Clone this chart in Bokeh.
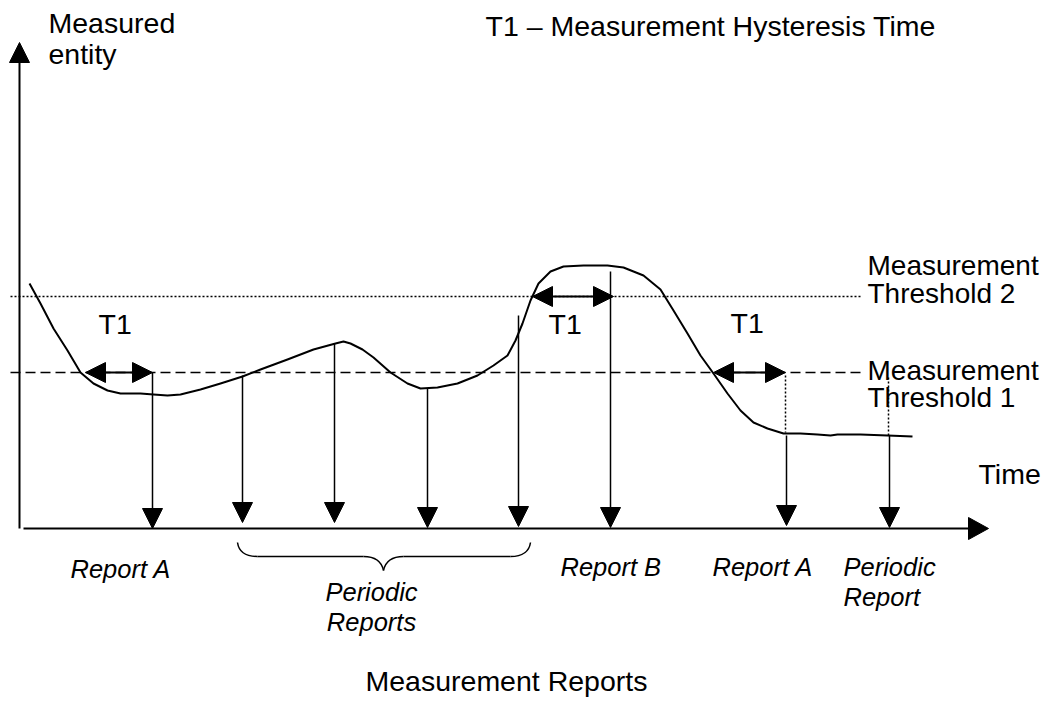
from bokeh.plotting import figure
from bokeh.models import Range1d
from bokeh.embed import file_html
from bokeh.resources import INLINE
from bokeh.core.properties import value

# ---------------- data (diagram coordinates) ----------------
curve_x = [29, 40, 53, 67, 80, 93, 107, 120, 140, 153, 167, 180, 200, 220, 242, 260,
           287, 313, 335, 343, 350, 362, 373, 390, 407, 420, 437, 457, 477, 493, 507,
           515, 522, 530, 538, 550, 563, 583, 607, 623, 643, 660, 673, 687, 700, 713,
           727, 740, 753, 767, 783, 800, 817, 830, 837, 860, 887, 912]
curve_y = [283, 303, 328, 350, 372, 383, 390, 393, 393, 394, 395, 394, 389, 383, 376, 369,
           359, 349, 343, 341, 343, 349, 357, 372, 383, 388, 387, 383, 375, 365, 355,
           340, 323, 300, 283, 271, 266, 265, 265, 267, 275, 289, 310, 333, 355, 373,
           393, 410, 422, 428, 433, 433, 434, 435, 434, 434, 435, 436]

threshold_x = [10, 860]
threshold1_level = 372
threshold2_level = 296

report_x = [152, 242, 334, 427, 518, 610, 786, 889]
report_top = [372, 375, 343, 388, 315, 271, 435, 435]
report_tip = [528, 522, 522, 527, 526, 527, 525, 527]

hyst_start = [85, 532, 713]
hyst_end = [152, 613, 785]
hyst_level = [372, 296, 372]
hyst_label_x = [98, 548, 730]
hyst_label_y = [333, 333, 332]

drop_x = [785, 888]
drop_top = [375, 377]
drop_bottom = [432, 435]

report_label_text = ["Report A", "Report B", "Report A", "Periodic", "Report"]
report_label_x = [70, 560, 712, 843, 843]
report_label_y = [577, 575, 575, 575, 605]

periodic_text = ["Periodic", "Reports"]
periodic_x = [371, 371]
periodic_y = [600, 630]

plain_text = ["Measured", "entity", "T1 \u2013 Measurement Hysteresis Time",
              "Time", "Measurement Reports"]
plain_x = [48, 48, 485, 978, 365]
plain_y = [32, 63, 35, 483, 690]

threshold_text = ["Measurement", "Threshold 2", "Measurement", "Threshold 1"]
threshold_text_x = [867, 867, 867, 867]
threshold_text_y = [275, 303, 380, 407]

FONT = value("Liberation Sans")
BIG = 28.5
SMALL = 25.5
# renderer places the alphabetic baseline about a third of an em lower than asked
BIG_SHIFT = 0.34 * BIG
SMALL_SHIFT = 0.34 * SMALL

p = figure(width=1043, height=697, x_range=Range1d(0, 1043), y_range=Range1d(697, 0),
           output_backend="svg", toolbar_location=None, x_axis_type=None, y_axis_type=None,
           min_border=0)
p.outline_line_color = None
p.background_fill_color = "white"
p.border_fill_color = "white"

# axes
p.segment(x0=[19, 23], y0=[62, 528], x1=[19, 968], y1=[528, 528], line_width=2, line_color="black")
p.patches(xs=[[9, 29, 19], [968, 968, 988]], ys=[[62, 62, 42], [517, 539, 528]],
          fill_color="black", line_color="black", line_width=1)

# thresholds
p.line(threshold_x, [threshold2_level] * 2, line_width=1.5, line_color="black", line_dash="2 2")
p.line(threshold_x, [threshold1_level] * 2, line_width=1.5, line_color="black", line_dash="10 5")

# curve
p.line(curve_x, curve_y, line_width=2, line_color="black", line_join="round")

# report arrows
HEAD_L = 20
HEAD_W = 10
p.segment(x0=report_x, y0=report_top, x1=report_x, y1=[t - HEAD_L for t in report_tip],
          line_width=1.5, line_color="black")
p.patches(xs=[[x - HEAD_W, x + HEAD_W, x] for x in report_x],
          ys=[[t - HEAD_L, t - HEAD_L, t] for t in report_tip],
          fill_color="black", line_color="black", line_width=1)

# dotted drops
p.segment(x0=drop_x, y0=drop_top, x1=drop_x, y1=drop_bottom, line_width=1.5,
          line_color="black", line_dash="2 2")

# hysteresis double arrows
p.segment(x0=[s + 15 for s in hyst_start], y0=hyst_level, x1=[e - 15 for e in hyst_end],
          y1=hyst_level, line_width=2, line_color="black")
hx, hy = [], []
for s, e, lv in zip(hyst_start, hyst_end, hyst_level):
    hx.append([s, s + HEAD_L, s + HEAD_L]); hy.append([lv, lv - HEAD_W, lv + HEAD_W])
    hx.append([e, e - HEAD_L, e - HEAD_L]); hy.append([lv, lv - HEAD_W, lv + HEAD_W])
p.patches(xs=hx, ys=hy, fill_color="black", line_color="black", line_width=1)

# brace under periodic reports
p.quadratic(x0=[237, 363, 383, 510], y0=[542, 556, 570, 556],
            x1=[257, 383, 403, 530], y1=[556, 570, 556, 542],
            cx=[239, 380, 386, 528], cy=[556, 556, 556, 556],
            line_width=1.5, line_color="black")
p.segment(x0=[257, 403], y0=[556, 556], x1=[363, 510], y1=[556, 556],
          line_width=1.5, line_color="black")

# texts
def up(ys, d):
    return [y - d for y in ys]

p.text(x=plain_x, y=up(plain_y, BIG_SHIFT), text=plain_text, text_font=FONT,
       text_font_size=value(f"{BIG}px"), text_color="black", text_baseline="alphabetic",
       text_align="left")
p.text(x=threshold_text_x, y=up(threshold_text_y, BIG_SHIFT), text=threshold_text, text_font=FONT,
       text_font_size=value("28px"), text_color="black", text_baseline="alphabetic",
       text_align="left")
p.text(x=hyst_label_x, y=up(hyst_label_y, BIG_SHIFT), text=["T1"] * 3, text_font=FONT,
       text_font_size=value(f"{BIG}px"), text_color="black", text_baseline="alphabetic",
       text_align="left")
p.text(x=report_label_x, y=up(report_label_y, SMALL_SHIFT), text=report_label_text, text_font=FONT,
       text_font_size=value(f"{SMALL}px"), text_font_style="italic", text_color="black",
       text_baseline="alphabetic", text_align="left")
p.text(x=periodic_x, y=up(periodic_y, SMALL_SHIFT), text=periodic_text, text_font=FONT,
       text_font_size=value(f"{SMALL}px"), text_font_style="italic", text_color="black",
       text_baseline="alphabetic", text_align="center")

open("out.html", "w").write(file_html(p, INLINE))
